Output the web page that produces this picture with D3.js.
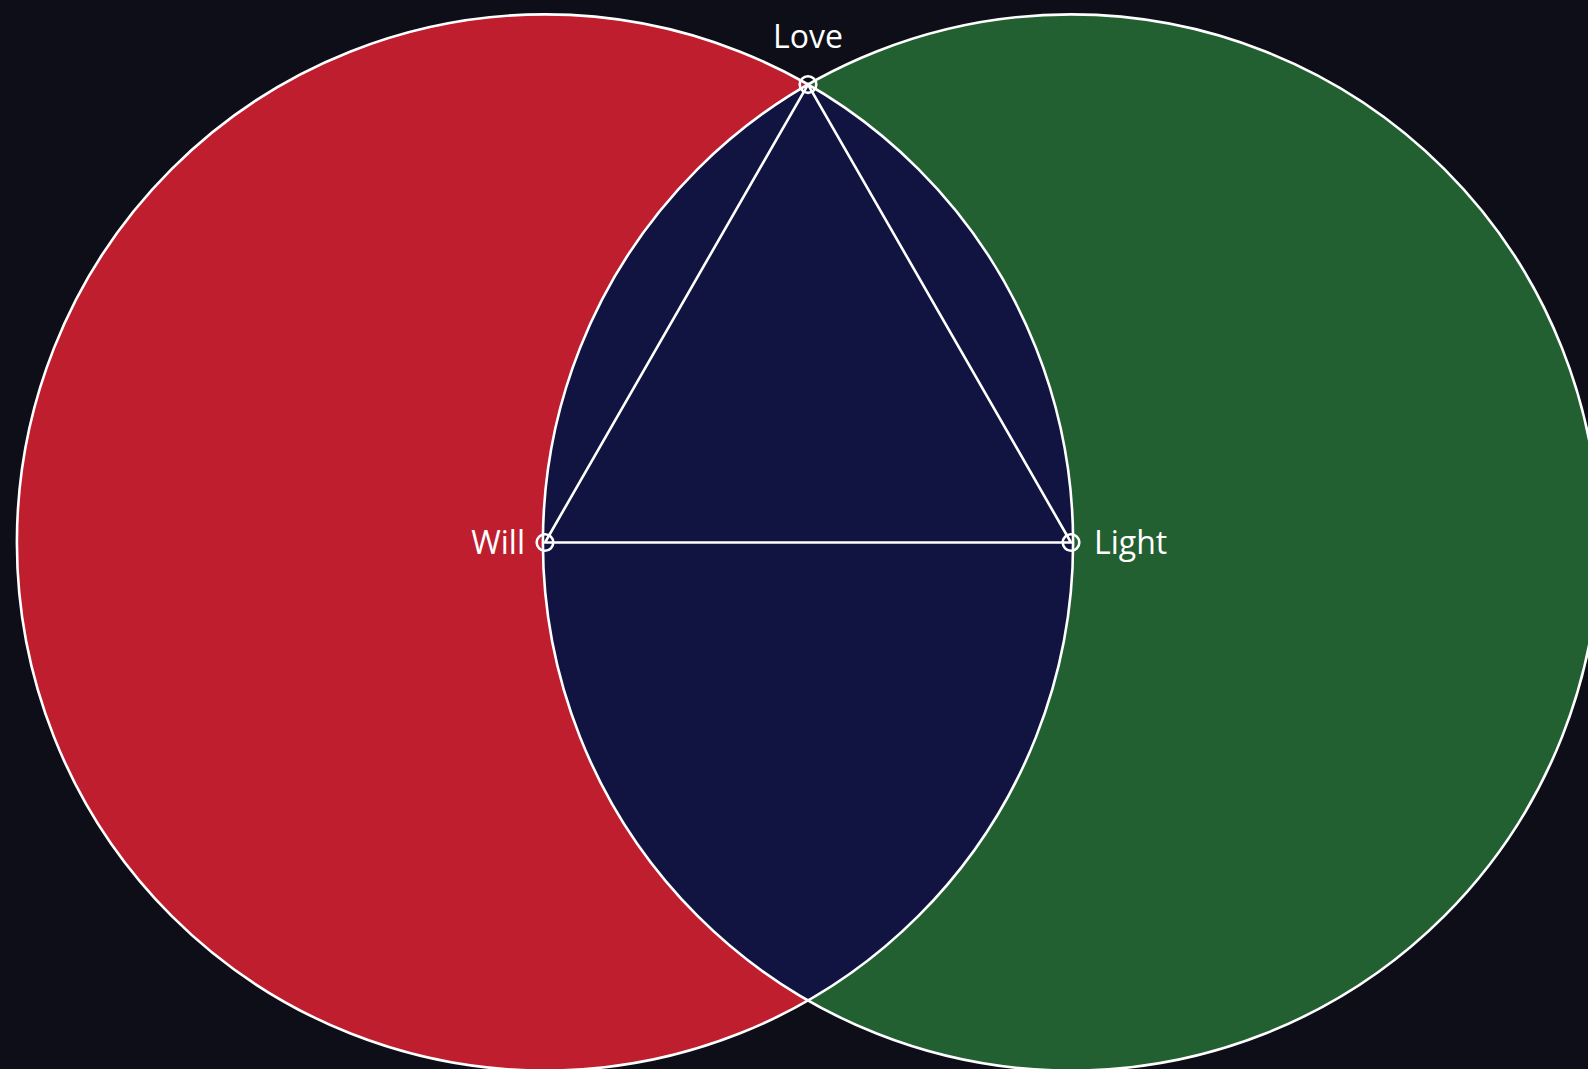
<!DOCTYPE html>
<html><head><meta charset="utf-8">
<script src="https://cdn.jsdelivr.net/npm/d3@7"></script>
<style>
html,body{margin:0;padding:0;background:#0e0e19;overflow:hidden;}
svg{display:block;}
</style></head>
<body>
<svg id="chart" width="1588" height="1069"></svg>
<script>
// Data
const setNames = ["Will", "Light"];
const setX = [0, 1];          // centre positions in unit space
const setY = [0, 0];
const setRadius = [1.004, 1.004];
const setColors = ["#be1e2d", "#226032"];
const overlapColor = "#111340";
const pointLabels = ["Will", "Light", "Love"];

const W = 1588, H = 1069;
const svg = d3.select("#chart");
svg.append("rect").attr("width", W).attr("height", H).attr("fill", "#0e0e19");

const x = d3.scaleLinear().domain([0, 1]).range([545, 1071]);
const y = d3.scaleLinear().domain([-1, 1]).range([542.5 - 526, 542.5 + 526]);
const k = x(1) - x(0);

const circles = setNames.map((n, i) => ({name: n, cx: x(setX[i]), cy: y(setY[i]), r: setRadius[i] * k, color: setColors[i]}));

// intersection point (top)
const d = circles[1].cx - circles[0].cx;
const a = d / 2;
const h = Math.sqrt(circles[0].r * circles[0].r - a * a);
const pts = [
  {name: pointLabels[0], x: circles[0].cx, y: circles[0].cy},
  {name: pointLabels[1], x: circles[1].cx, y: circles[1].cy},
  {name: pointLabels[2], x: circles[0].cx + a, y: circles[0].cy - h}
];

// circles fill
svg.selectAll("circle.set").data(circles).join("circle")
  .attr("class", "set")
  .attr("cx", c => c.cx).attr("cy", c => c.cy).attr("r", c => c.r)
  .attr("fill", c => c.color);

// overlap lens
const defs = svg.append("defs");
defs.append("clipPath").attr("id", "clipA").append("circle")
  .attr("cx", circles[0].cx).attr("cy", circles[0].cy).attr("r", circles[0].r);
svg.append("circle").attr("clip-path", "url(#clipA)")
  .attr("cx", circles[1].cx).attr("cy", circles[1].cy).attr("r", circles[1].r)
  .attr("fill", overlapColor);

// outlines
svg.selectAll("circle.outline").data(circles).join("circle")
  .attr("class", "outline")
  .attr("cx", c => c.cx).attr("cy", c => c.cy).attr("r", c => c.r)
  .attr("fill", "none").attr("stroke", "#ffffff").attr("stroke-width", 2.6);

// triangle
const line = d3.line().x(p => p.x).y(p => p.y).curve(d3.curveLinearClosed);
svg.append("path").attr("d", line(pts))
  .attr("fill", "none").attr("stroke", "#ffffff").attr("stroke-width", 2.6);

// markers
svg.selectAll("circle.marker").data(pts).join("circle")
  .attr("class", "marker")
  .attr("cx", p => p.x).attr("cy", p => p.y).attr("r", 8.3)
  .attr("fill", "none").attr("stroke", "#ffffff").attr("stroke-width", 2.6);

// labels
const font = "'Open Sans', 'Noto Sans', sans-serif";
svg.append("text").text(pts[0].name)
  .attr("x", pts[0].x - 20).attr("y", pts[0].y + 11)
  .attr("text-anchor", "end").attr("fill", "#ffffff")
  .attr("font-family", font).attr("font-size", 32);
svg.append("text").text(pts[1].name)
  .attr("x", pts[1].x + 23).attr("y", pts[1].y + 11)
  .attr("text-anchor", "start").attr("fill", "#ffffff")
  .attr("font-family", font).attr("font-size", 32);
svg.append("text").text(pts[2].name)
  .attr("x", pts[2].x).attr("y", pts[2].y - 37)
  .attr("text-anchor", "middle").attr("fill", "#ffffff")
  .attr("font-family", font).attr("font-size", 32);
</script>
</body></html>
